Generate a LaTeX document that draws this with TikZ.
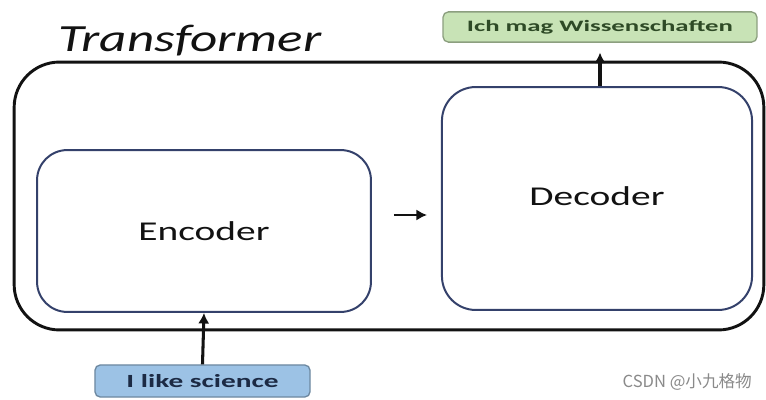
\documentclass[tikz,border=0pt]{standalone}
\usepackage{fontspec}
\setmainfont{Carlito}
\newfontfamily\cjkfont{Noto Sans CJK SC}
\usetikzlibrary{arrows.meta,positioning}
\definecolor{cInk}{HTML}{121212}
\definecolor{cNavy}{HTML}{34416B}
\definecolor{cGreen}{HTML}{C8E3B6}
\definecolor{cGreenTxt}{HTML}{2E4A26}
\definecolor{cSky}{HTML}{9CC2E5}
\definecolor{cSkyTxt}{HTML}{1C2A44}
\definecolor{cMark}{HTML}{8A8A8A}
% horizontal stretch of a text
\newcommand{\wtext}[2]{\scalebox{#1}[1]{#2}}
\tikzset{
  frame/.style={draw=cInk,line width=2.2pt,rounded corners=1.2cm,inner sep=0pt,
    minimum width=19.87cm,minimum height=7.10cm},
  block/.style={draw=cNavy,line width=1.5pt,inner sep=0pt,text=cInk,
    font=\fontsize{20.5}{24}\selectfont},
  tag/.style={draw=#1!70!black,fill=#1,rounded corners=4pt,line width=1pt,inner sep=0pt},
  arr/.style={-{Latex[length=8pt,width=8.5pt]},line width=2.3pt,color=cInk},
}

\begin{document}
\begin{tikzpicture}[x=0.0265cm,y=-0.0265cm]
  \fill[white] (0,0) rectangle (766,400);
  \useasboundingbox (0,0) rectangle (766,400);
  % outer frame + title
  \node[frame] (tf) at (389,196) {};
  \node[font=\fontsize{29}{34}\selectfont\itshape,text=cInk,anchor=base west,inner sep=0pt] (title) at (58,52) {\wtext{1.38}{Transformer}};
  % encoder / decoder
  \node[block,rounded corners=0.8cm,minimum width=8.85cm,minimum height=4.29cm] (enc) at (204,231) {\wtext{1.45}{Encoder}};
  \node[block,rounded corners=0.9cm,minimum width=8.22cm,minimum height=5.91cm] (dec) at (597,198.5) {\raisebox{0.12cm}{\wtext{1.45}{Decoder}}};
  % input / output
  \node[tag=cGreen,minimum width=8.32cm,minimum height=0.80cm,text=cGreenTxt,font=\fontsize{12}{13}\selectfont\bfseries] (out) at (600,27) {\wtext{1.68}{Ich mag Wissenschaften}};
  \node[tag=cSky,minimum width=5.70cm,minimum height=0.85cm,text=cSkyTxt,font=\fontsize{14}{16}\selectfont\bfseries] (inp) at (202.5,381) {\wtext{1.58}{I like science}};
  % connectors
  \draw[arr] (inp.north) -- (enc.south);
  \draw[arr,line width=2pt,shorten <=0.58cm,shorten >=0.37cm] (enc.east |- 0,215) -- (dec.west |- 0,215);
  \draw[arr,shorten >=0.26cm] (dec.north -| out.south) -- (out.south);
  % watermark
  \node[font=\fontsize{12.5}{14}\selectfont,text=cMark,anchor=east,inner sep=0pt] (mark) at (752,382) {\cjkfont CSDN @小九格物};
\end{tikzpicture}
\end{document}
